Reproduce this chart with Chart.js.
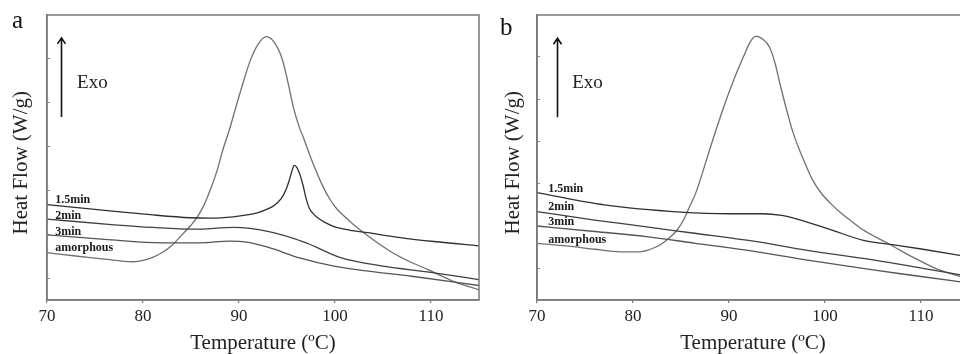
<!DOCTYPE html>
<html><head><meta charset="utf-8">
<script src="https://cdn.jsdelivr.net/npm/chart.js@4"></script>
<style>
html,body{margin:0;padding:0;background:#fff;overflow:hidden;width:960px;height:354px;position:relative}
canvas{position:absolute;top:0}
#ca{left:0}
#cb{left:480px}
.pl{position:absolute;font-family:"Liberation Serif",serif;font-size:25px;color:#111;line-height:1}
</style></head>
<body>
<canvas id="ca" width="480" height="354"></canvas>
<canvas id="cb" width="490" height="354"></canvas>
<div class="pl" style="left:12px;top:7px">a</div>
<div class="pl" style="left:500px;top:14px">b</div>
<script>
// ---------- data: panel a ----------
const seriesNames = ['1.5min', '2min', '3min', 'amorphous'];
const xTickValues = [70, 80, 90, 100, 110];

const a15T = [70, 75.5, 80.75, 84.9, 87, 89.4, 91, 91.9, 93, 93.6, 94.0, 94.5, 94.9, 95.2, 95.5, 95.75, 96.0, 96.3, 96.7, 97.0, 97.3, 97.7, 98.2, 99, 99.9, 101.5, 103.4, 106.8, 110.3, 115];
const a15V = [1.67, 1.55, 1.44, 1.37, 1.36, 1.39, 1.44, 1.48, 1.57, 1.64, 1.71, 1.84, 2.01, 2.20, 2.42, 2.56, 2.52, 2.38, 2.08, 1.80, 1.60, 1.47, 1.37, 1.26, 1.17, 1.09, 1.03, 0.92, 0.83, 0.73];

const a2T = [70, 77, 81, 85.3, 89.5, 93, 97, 100.5, 105, 110, 115];
const a2V = [1.34, 1.21, 1.15, 1.11, 1.15, 1.06, 0.80, 0.47, 0.27, 0.13, -0.04];

const a3T = [70, 76, 82, 86, 89, 91, 93, 96.4, 99.9, 103, 108, 115];
const a3V = [0.98, 0.88, 0.80, 0.80, 0.84, 0.81, 0.70, 0.45, 0.27, 0.17, 0.04, -0.17];

const aAmT = [70, 73, 76, 78, 79, 80, 81, 82, 83, 84, 85, 85.7, 86.4, 87, 87.7, 88.3, 89, 89.6, 90.3, 91.2, 92, 92.8, 93.6, 94.5, 95.1, 95.7, 96.3, 96.8, 97.4, 98, 98.7, 99.5, 100.2, 101, 102, 103, 104.5, 106, 107.8, 109.7, 112.4, 115];
const aAmV = [0.575, 0.50, 0.43, 0.38, 0.37, 0.40, 0.47, 0.58, 0.74, 0.97, 1.20, 1.40, 1.68, 2.0, 2.43, 2.9, 3.37, 3.83, 4.35, 4.96, 5.32, 5.49, 5.38, 4.98, 4.45, 3.85, 3.42, 3.14, 2.78, 2.45, 2.10, 1.78, 1.57, 1.40, 1.20, 1.03, 0.79, 0.575, 0.37, 0.19, -0.08, -0.27];

// ---------- data: panel b ----------
const b15T = [70, 77, 85, 90, 93.5, 95.5, 97, 100.5, 104, 107, 110.2, 115];
const b15V = [1.79, 1.50, 1.33, 1.29, 1.29, 1.25, 1.17, 0.92, 0.66, 0.56, 0.45, 0.27];

const b2T = [70, 76, 81.4, 86, 92.9, 98, 105, 110.2, 115];
const b2V = [1.34, 1.14, 0.98, 0.84, 0.63, 0.43, 0.20, 0.0, -0.19];

const b3T = [70, 76, 81.4, 86.5, 91.8, 98, 105, 110.2, 115];
const b3V = [1.0, 0.87, 0.75, 0.59, 0.43, 0.20, -0.04, -0.20, -0.35];

const bAmT = [70, 73.8, 76, 78.7, 80.7, 81.8, 82.8, 83.8, 84.6, 85.3, 85.9, 86.5, 87.0, 87.7, 88.4, 89.4, 90.4, 91.5, 92.2, 92.8, 93.5, 94.2, 94.8, 95.3, 96.0, 96.7, 97.7, 98.7, 99.6, 100.6, 101.6, 102.6, 104, 105.2, 106.4, 107.8, 109.1, 111.9, 115];
const bAmV = [0.59, 0.51, 0.45, 0.39, 0.39, 0.45, 0.55, 0.72, 0.905, 1.16, 1.46, 1.76, 2.09, 2.60, 3.10, 3.78, 4.40, 5.0, 5.35, 5.49, 5.42, 5.24, 4.85, 4.37, 3.75, 3.19, 2.60, 2.09, 1.78, 1.53, 1.32, 1.14, 0.905, 0.75, 0.61, 0.43, 0.27, -0.04, -0.25];

// ---------- styling / layout ----------
const SERIF = '"Liberation Serif", "Times New Roman", serif';
const lineColors = ['#303030', '#404040', '#555555', '#707070'];

function pts(T, V) { return T.map((t, i) => ({ x: t, y: V[i] })); }

const annotPlugin = {
  id: 'annot',
  afterDatasetsDraw(chart) {
    const { ctx, chartArea: ca, scales: { x, y } } = chart;
    const n = chart.options.plugins.annot;
    ctx.save();
    // frame
    ctx.strokeStyle = '#7a7a7a';
    ctx.lineWidth = 1.5;
    ctx.strokeRect(ca.left, ca.top, ca.right - ca.left, ca.bottom - ca.top);
    // arrow
    const ax = Math.round(x.getPixelForValue(n.arrowT)) + 0.5;
    const ay1 = y.getPixelForValue(n.arrowFrom), ay2 = y.getPixelForValue(n.arrowTo);
    ctx.strokeStyle = '#111';
    ctx.lineWidth = 1.6;
    ctx.beginPath();
    ctx.moveTo(ax, ay1); ctx.lineTo(ax, ay2);
    ctx.moveTo(ax - 4, ay2 + 6); ctx.lineTo(ax, ay2); ctx.lineTo(ax + 4, ay2 + 6);
    ctx.stroke();
    // Exo
    ctx.fillStyle = '#222';
    ctx.font = '19px ' + SERIF;
    ctx.textBaseline = 'middle';
    ctx.textAlign = 'left';
    ctx.fillText('Exo', x.getPixelForValue(n.exoT), y.getPixelForValue(n.exoV));
    // series labels
    ctx.font = 'bold 12px ' + SERIF;
    ctx.fillStyle = '#1a1a1a';
    seriesNames.forEach((s, i) => {
      ctx.fillText(s, x.getPixelForValue(n.labT), y.getPixelForValue(n.labV[i]));
    });
    ctx.restore();
  }
};

function makeChart(id, series, yMin, yMax, yAxisWidth, yTitlePad, notes) {
  return new Chart(document.getElementById(id), {
    type: 'line',
    data: {
      datasets: series.map((s, i) => ({
        label: seriesNames[i],
        data: pts(s[0], s[1]),
        borderColor: lineColors[i],
        borderWidth: 1.3,
        pointRadius: 0,
        cubicInterpolationMode: 'monotone',
        fill: false
      }))
    },
    options: {
      responsive: false,
      animation: false,
      devicePixelRatio: 1,
      layout: { padding: { top: 15, right: 1, left: 0, bottom: 0 } },
      plugins: { legend: { display: false }, tooltip: { enabled: false }, annot: notes },
      scales: {
        x: {
          type: 'linear', min: 70, max: 115,
          afterBuildTicks: s => { s.ticks = xTickValues.map(v => ({ value: v })); },
          ticks: { font: { family: SERIF, size: 17 }, color: '#222', padding: 3, maxRotation: 0 },
          grid: { drawOnChartArea: false, tickLength: 3, color: '#777', lineWidth: 1.2 },
          border: { color: '#7a7a7a', width: 1.5 },
          title: { display: true, text: 'Temperature (ºC)', font: { family: SERIF, size: 21, lineHeight: 1 }, color: '#222', padding: 0 },
          afterFit: s => { s.height = 54; }
        },
        y: {
          type: 'linear', min: yMin, max: yMax,
          ticks: { display: false, stepSize: 1, includeBounds: false },
          grid: { drawOnChartArea: false, tickLength: -3, color: '#888', lineWidth: 1 },
          border: { color: '#7a7a7a', width: 1.5 },
          title: { display: true, text: 'Heat Flow (W/g)  ', font: { family: SERIF, size: 21, lineHeight: 1.2 }, color: '#222', padding: { top: yTitlePad, bottom: 0 } },
          afterFit: s => { s.width = yAxisWidth; }
        }
      }
    },
    plugins: [annotPlugin]
  });
}

makeChart('ca', [[a15T, a15V], [a2T, a2V], [a3T, a3V], [aAmT, aAmV]], -0.5, 5.98, 47, 9,
  { arrowT: 71.46, arrowFrom: 3.66, arrowTo: 5.46, exoT: 73.13, exoV: 4.44, labT: 70.85, labV: [1.78, 1.42, 1.05, 0.69] });

makeChart('cb', [[b15T, b15V], [b2T, b2V], [b3T, b3V], [bAmT, bAmV]], -0.75, 5.99, 57, 20.4,
  { arrowT: 72.1, arrowFrom: 3.57, arrowTo: 5.44, exoT: 73.67, exoV: 4.38, labT: 71.17, labV: [1.875, 1.45, 1.095, 0.67] });
</script>
</body></html>
